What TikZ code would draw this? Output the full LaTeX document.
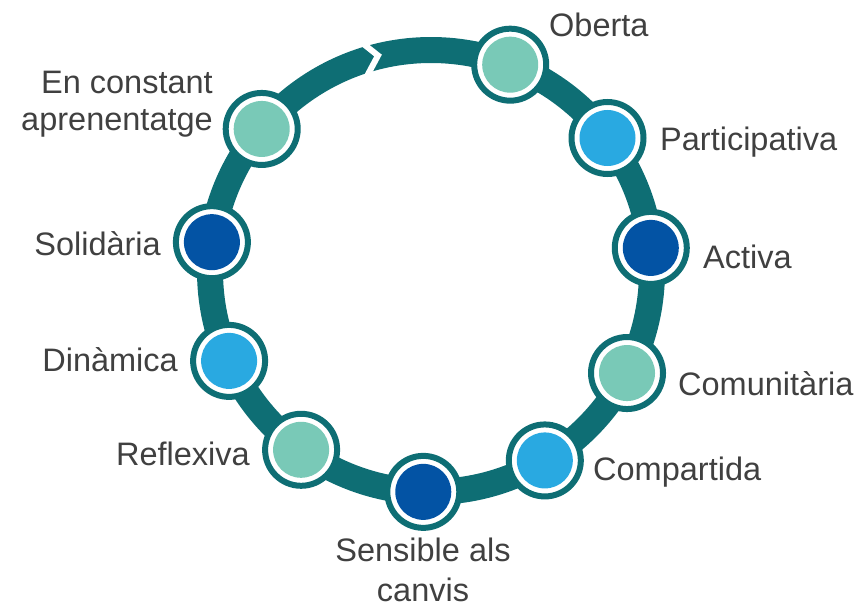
\documentclass[tikz,border=0pt]{standalone}
\usepackage{fontspec}
\setmainfont{Liberation Sans}
\usetikzlibrary{calc}
\definecolor{ringc}{HTML}{0E6E74}
\definecolor{mint}{HTML}{79C9B7}
\definecolor{sky}{HTML}{29A9E1}
\definecolor{navy}{HTML}{0353A4}
\definecolor{txt}{HTML}{404040}
\tikzset{
  marker/.style={circle, minimum size=72pt, inner sep=0pt, line width=6pt,
    draw=ringc, fill=white,
    path picture={\fill[#1] (path picture bounding box.center) circle (28pt);}},
  lbl/.style={inner sep=0pt, text=txt, font=\fontsize{32.5}{40}\selectfont}
}
\begin{document}
\begin{tikzpicture}[x=1pt,y=-1pt]
\useasboundingbox (0,0) rectangle (857,608);
\coordinate (C) at (431,271);
% ring
\draw[ringc, line width=26pt] (C) circle (221pt);
% chevron gap
\coordinate (g1) at (361,42);
\coordinate (g2) at (378,55.5);
\coordinate (g3) at (366,78);
\draw[white, line width=6pt, line join=miter] (g1) -- (g2) -- (g3);
% markers
\node[marker=mint] (m1)  at ($(C)+(-69:221)$) {};
\node[marker=sky]  (m2)  at ($(C)+(-37:221)$) {};
\node[marker=navy] (m3)  at ($(C)+(-6:221)$) {};
\node[marker=mint] (m4)  at ($(C)+(27.5:221)$) {};
\node[marker=sky]  (m5)  at ($(C)+(59:221)$) {};
\node[marker=navy] (m6)  at ($(C)+(92:221)$) {};
\node[marker=mint] (m7)  at ($(C)+(126:221)$) {};
\node[marker=sky]  (m8)  at ($(C)+(156:221)$) {};
\node[marker=navy] (m9)  at ($(C)+(187.5:221)$) {};
\node[marker=mint] (m10) at ($(C)+(220:221)$) {};
% labels
\node[lbl, anchor=base west] (t1) at (549,36) {Oberta};
\node[lbl, anchor=base west] (t2) at (660,150) {Participativa};
\node[lbl, anchor=base west] (t3) at (703,268) {Activa};
\node[lbl, anchor=base west] (t4) at (678,395) {Comunitària};
\node[lbl, anchor=base west] (t5) at (593,480) {Compartida};
\node[lbl, anchor=north, align=center] (t6) at (423,538) {Sensible als\\canvis};
\node[lbl, anchor=base east] (t7) at (250,465) {Reflexiva};
\node[lbl, anchor=base east] (t8) at (178,371) {Dinàmica};
\node[lbl, anchor=base east] (t9) at (161,255) {Solidària};
\node[lbl, anchor=north east, align=right, font=\fontsize{32.5}{37}\selectfont] (t10) at (213,71) {En constant\\aprenentatge};
\end{tikzpicture}
\end{document}
